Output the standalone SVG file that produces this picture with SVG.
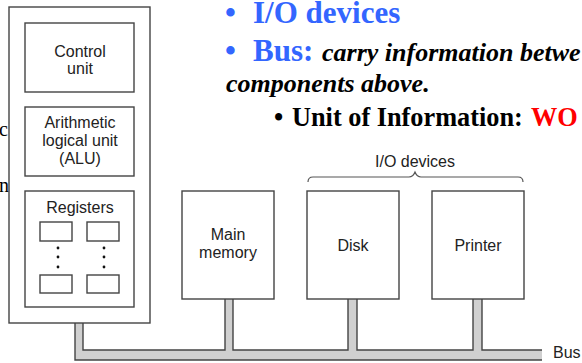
<svg xmlns="http://www.w3.org/2000/svg" width="582" height="363" viewBox="0 0 582 363">
<style>
.box{fill:#fff;stroke:#444;stroke-width:1.4}
.lbl{font-family:"Liberation Sans",Arial,sans-serif;font-size:16px;fill:#222;text-anchor:middle}
.blue{font-family:"Liberation Serif","Times New Roman",serif;font-weight:bold;font-size:31px;fill:#3366ff}
.bi{font-family:"Liberation Serif","Times New Roman",serif;font-weight:bold;font-style:italic;font-size:26px;fill:#000}
.bb{font-family:"Liberation Serif","Times New Roman",serif;font-weight:bold;font-size:26.3px;fill:#000}
.red{fill:#ff0000}
.side{font-family:"Liberation Serif","Times New Roman",serif;font-size:20px;fill:#000}
.dot{fill:#111}
</style>
<rect width="582" height="363" fill="#fff"/>

<g id="slide-text">
<text class="blue" x="225" y="23">•</text>
<text class="blue" x="253" y="23">I/O devices</text>
<text class="blue" x="225" y="61">•</text>
<text class="blue" x="253" y="61">Bus:</text>
<text class="bi" x="322" y="61">carry information betwe</text>
<text class="bi" x="226" y="92">components above.</text>
<text class="bb" x="274" y="126">•</text>
<text class="bb" x="292" y="126">Unit of Information:</text>
<text class="bb red" x="531" y="126">WO</text>
<text class="side" x="-1" y="136">c</text>
<text class="side" x="-1" y="192">n</text>
</g>

<g id="bus">
<polygon fill="#d0d0d0" points="75,323 75,360 542,360 542,350 482,350 482,299 473,299 473,350 357,350 357,299 348,299 348,350 233,350 233,299 225,299 225,350 83,350 83,323"/>
<path fill="none" stroke="#444" stroke-width="1.4" d="M75,323 V360 H542 M542,350 H482 V299 M473,299 V350 H357 V299 M348,299 V350 H233 V299 M225,299 V350 H83 V323"/>
<text class="lbl" x="553" y="358" style="text-anchor:start">Bus</text>
</g>

<g id="cpu">
<rect class="box" x="9" y="7" width="141" height="316"/>
<g id="control-unit">
<rect class="box" x="25" y="23" width="109" height="69"/>
<text class="lbl" x="80" y="57">Control</text>
<text class="lbl" x="80" y="74">unit</text>
</g>
<g id="alu">
<rect class="box" x="25" y="107" width="109" height="69"/>
<text class="lbl" x="80" y="128">Arithmetic</text>
<text class="lbl" x="80" y="146">logical unit</text>
<text class="lbl" x="80" y="164">(ALU)</text>
</g>
<g id="registers">
<rect class="box" x="25" y="191" width="109" height="116"/>
<text class="lbl" x="80" y="213">Registers</text>
<rect class="box" x="40" y="222" width="32" height="19"/>
<rect class="box" x="87" y="222" width="32" height="19"/>
<rect class="box" x="40" y="275" width="32" height="18"/>
<rect class="box" x="87" y="275" width="32" height="18"/>
<circle class="dot" cx="58" cy="248" r="1.4"/>
<circle class="dot" cx="58" cy="257" r="1.4"/>
<circle class="dot" cx="58" cy="267" r="1.4"/>
<circle class="dot" cx="104" cy="248" r="1.4"/>
<circle class="dot" cx="104" cy="257" r="1.4"/>
<circle class="dot" cx="104" cy="267" r="1.4"/>
</g>
</g>

<g id="main-memory">
<rect class="box" x="182" y="191" width="92" height="108"/>
<text class="lbl" x="228" y="240">Main</text>
<text class="lbl" x="228" y="258">memory</text>
</g>
<g id="disk">
<rect class="box" x="307" y="191" width="92" height="108"/>
<text class="lbl" x="353" y="251">Disk</text>
</g>
<g id="printer">
<rect class="box" x="432" y="191" width="92" height="108"/>
<text class="lbl" x="478" y="251">Printer</text>
</g>

<g id="io-devices-label">
<path fill="none" stroke="#555" stroke-width="1.2" d="M308,182 Q308,177 313,177 H409 Q413,177 415,172 Q417,177 421,177 H518 Q523,177 523,182"/>
<text class="lbl" x="415" y="167">I/O devices</text>
</g>
</svg>
